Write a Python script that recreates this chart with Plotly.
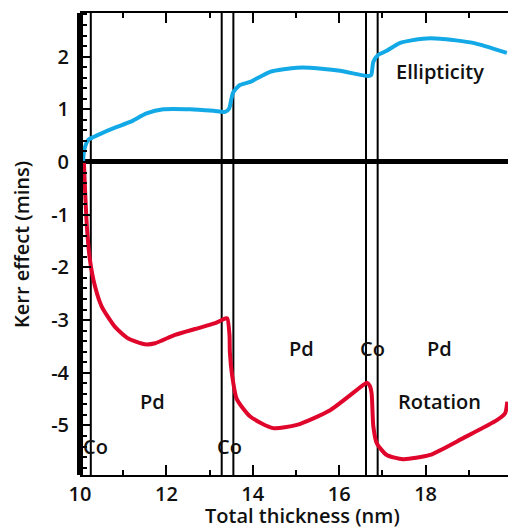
import plotly.graph_objects as go

# Ellipticity (blue)
ell_x = [10.07, 10.09, 10.13, 10.19, 10.30, 10.46, 10.81, 11.16, 11.54, 11.93, 12.55, 13.09, 13.36,
         13.45, 13.50, 13.54, 13.61, 13.70, 13.94, 14.40, 15.02, 15.32, 16.02, 16.67, 16.74, 16.79,
         16.90, 17.10, 17.41, 17.94, 18.33, 19.10, 19.88]
ell_y = [0.00, 0.19, 0.32, 0.42, 0.47, 0.53, 0.65, 0.76, 0.92, 1.00, 1.00, 0.97, 0.95,
         1.01, 1.18, 1.31, 1.39, 1.46, 1.52, 1.71, 1.79, 1.79, 1.73, 1.63, 1.65, 1.90,
         2.03, 2.11, 2.26, 2.34, 2.34, 2.26, 2.07]

# Rotation (red)
rot_x = [10.09, 10.12, 10.16, 10.23, 10.35, 10.50, 10.81, 11.12, 11.50, 11.74, 12.20, 12.66, 13.13,
         13.36, 13.41, 13.46, 13.47, 13.52, 13.63, 13.94, 14.47, 15.02, 15.79, 16.56, 16.64, 16.71,
         16.75, 16.79, 16.87, 17.10, 17.48, 18.10, 18.87, 19.65, 19.84, 19.89]
rot_y = [0.00, -0.59, -1.23, -1.86, -2.37, -2.74, -3.13, -3.35, -3.46, -3.44, -3.28, -3.17, -3.06,
         -2.97, -2.97, -3.28, -3.62, -4.04, -4.50, -4.83, -5.05, -4.99, -4.71, -4.23, -4.19, -4.25,
         -4.39, -5.02, -5.34, -5.56, -5.64, -5.56, -5.24, -4.90, -4.77, -4.55]

# Co layer boundaries (nm)
co_lines = [10.25, 13.28, 13.55, 16.62, 16.89]

# Text labels
label_text = ["Co", "Co", "Co", "Pd", "Pd", "Pd", "Rotation", "Ellipticity"]
label_x = [10.35, 13.45, 16.78, 11.67, 15.13, 18.33, 18.33, 18.33]
label_y = [-5.40, -5.40, -3.54, -4.55, -3.54, -3.54, -4.55, 1.71]

x_ticks = [10, 12, 14, 16, 18]
y_ticks = [-5, -4, -3, -2, -1, 0, 1, 2]

FONT = "Open Sans"
TXT = "#111111"
W = 600

def f(size=20):
    return dict(family=FONT, size=size, color=TXT, weight=W)

fig = go.Figure()
fig.add_trace(go.Scatter(x=ell_x, y=ell_y, mode="lines",
                         line=dict(color="#12A9E6", width=4, shape="spline", smoothing=0.6),
                         hoverinfo="skip", showlegend=False))
fig.add_trace(go.Scatter(x=rot_x, y=rot_y, mode="lines",
                         line=dict(color="#E0052B", width=4, shape="spline", smoothing=0.6),
                         hoverinfo="skip", showlegend=False))

shapes = []
for cx in co_lines:
    shapes.append(dict(type="line", xref="x", yref="paper", x0=cx, x1=cx, y0=0, y1=1,
                       line=dict(color="black", width=2), layer="below"))
# thick left axis
shapes.append(dict(type="line", xref="paper", yref="paper", x0=0, x1=0, y0=0, y1=1,
                   line=dict(color="black", width=6), layer="above"))

annotations = []
for t, x, y in zip(label_text, label_x, label_y):
    annotations.append(dict(x=x, y=y, xref="x", yref="y", text=t, showarrow=False, font=f()))
annotations.append(dict(x=0.521, y=-0.087, xref="paper", yref="paper",
                        text="Total thickness (nm)", showarrow=False,
                        xanchor="center", yanchor="middle", font=f()))
annotations.append(dict(x=-0.1355, y=0.498, xref="paper", yref="paper",
                        text="Kerr effect (mins)", showarrow=False, textangle=-90,
                        xanchor="center", yanchor="middle", font=f()))

fig.update_layout(
    width=508, height=531,
    margin=dict(l=80, r=0, t=13, b=56, autoexpand=False),
    paper_bgcolor="white", plot_bgcolor="white",
    shapes=shapes, annotations=annotations,
    font=f(),
)
fig.update_xaxes(range=[10, 19.907], tickvals=x_ticks, ticktext=[str(v) for v in x_ticks],
                 automargin=False,
                 ticks="inside", ticklen=10, tickwidth=2, tickcolor="black",
                 showline=True, linewidth=2, linecolor="black", mirror="allticks",
                 showgrid=False, zeroline=False, ticklabelstandoff=0,
                 minor=dict(dtick=1, tick0=10, ticks="inside", ticklen=5, tickwidth=2,
                            tickcolor="black", showgrid=False),
                 tickfont=f())
fig.update_yaxes(range=[-5.94, 2.827], tickvals=y_ticks, ticktext=[str(v) for v in y_ticks],
                 automargin=False,
                 ticks="inside", ticklen=11, tickwidth=2, tickcolor="black",
                 showline=False, showgrid=False, ticklabelstandoff=10,
                 zeroline=True, zerolinewidth=5, zerolinecolor="black",
                 minor=dict(dtick=0.2, tick0=0, ticks="inside", ticklen=7, tickwidth=2,
                            tickcolor="black", showgrid=False),
                 tickfont=f())

fig.write_html("out.html", config={"displayModeBar": False, "staticPlot": True},
               post_script="document.body.style.margin='0';document.body.style.overflow='hidden';")
